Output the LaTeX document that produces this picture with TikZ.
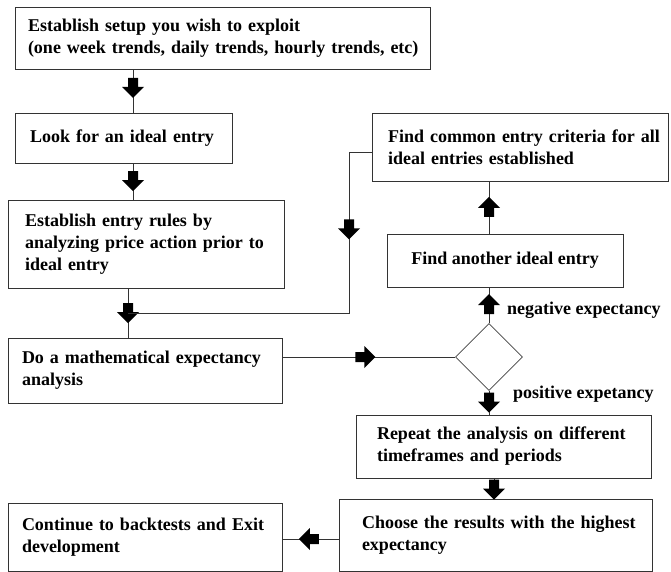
\documentclass[tikz,border=0pt]{standalone}
\usepackage{fontspec}
\setmainfont{Liberation Serif}
\usetikzlibrary{shapes.geometric}
\tikzset{
  box/.style={draw=black!80, line width=0.8pt, align=left, inner ysep=0pt,
    font=\fontsize{18}{22}\selectfont\bfseries},
  conn/.style={draw=black!80, line width=0.8pt},
  decision/.style={diamond, draw=black!75, line width=0.6pt, inner sep=0pt,
    minimum width=67, minimum height=67},
  lbl/.style={font=\fontsize{18}{22}\selectfont\bfseries, inner sep=0pt, anchor=west},
  blockarrow/.pic={\fill[black] (-10,-5) -- (-1,-5) -- (-1,-11) -- (10,0) -- (-1,11) -- (-1,5) -- (-10,5) -- cycle;}
}
\begin{document}
\begin{tikzpicture}[x=1pt,y=1pt]
\useasboundingbox (0,0) rectangle (671,-572);
% boxes
\node[box, inner xsep=13, text width=389, minimum width=415, minimum height=62] (b1) at (222.5,-38)
  {\mbox{Establish setup you wish to exploit}\\\mbox{(one week trends, daily trends, hourly trends, etc)}};
\node[box, inner xsep=15, text width=187, minimum width=217, minimum height=50] (b2) at (123.5,-138)
  {\mbox{Look for an ideal entry}};
\node[box, inner xsep=17, text width=242, minimum width=276, minimum height=88] (b3) at (146,-244)
  {\mbox{Establish entry rules by}\\\mbox{analyzing price action prior to}\\\mbox{ideal entry}};
\node[box, inner xsep=14, text width=246, minimum width=274, minimum height=65] (b4) at (145,-370.5)
  {\mbox{Do a mathematical expectancy}\\\mbox{analysis}};
\node[box, inner xsep=16, text width=264, minimum width=296, minimum height=68] (bcommon) at (520,-147)
  {\mbox{Find common entry criteria for all}\\\mbox{ideal entries established}};
\node[box, align=center, inner xsep=0pt, minimum width=236, minimum height=53] (banother) at (505,-260.5)
  {Find another ideal entry};
\node[decision] (dm) at (489,-357) {};
\node[box, inner xsep=21, text width=253, minimum width=295, minimum height=63] (brepeat) at (503.5,-446.5)
  {\mbox{Repeat the analysis on different}\\\mbox{timeframes and periods}};
\node[box, inner xsep=23, text width=267, minimum width=313, minimum height=72] (bchoose) at (495.5,-535)
  {\mbox{Choose the results with the highest}\\\mbox{expectancy}};
\node[box, inner xsep=14, text width=246, minimum width=274, minimum height=68] (bcontinue) at (145,-537)
  {\mbox{Continue to backtests and Exit}\\\mbox{development}};
% labels
\node[lbl] (neg) at (507,-310) {negative expectancy};
\node[lbl] (posl) at (513,-394) {positive expetancy};
% helper coordinates
\coordinate (x1) at (133,0);
\coordinate (x2) at (128,0);
\coordinate (xr) at (494,0);
\coordinate (yc) at (0,-539);
\coordinate (jn) at (128,-313);
\coordinate (cr) at (349,-152);
% connectors
\draw[conn] (b1.south -| x1) -- (b2.north -| x1) pic[pos=.43, sloped, allow upside down]{blockarrow};
\draw[conn] (b2.south -| x1) -- (b3.north -| x1) pic[pos=.49, sloped, allow upside down]{blockarrow};
\draw[conn] (b3.south -| x2) -- (b4.north -| x2) pic[pos=.5, sloped, allow upside down]{blockarrow};
\draw[conn] (bcommon.west |- cr) -- (cr) -- (cr |- jn) pic[pos=.48, sloped, allow upside down]{blockarrow} -- (jn);
\draw[conn] (b4.east |- dm.west) -- (dm.west) pic[pos=.48, sloped, allow upside down]{blockarrow};
\draw[conn] (dm.north) -- (banother.south -| dm.north) pic[pos=.53, sloped, allow upside down]{blockarrow};
\draw[conn] (banother.north -| dm.north) -- (bcommon.south -| dm.north) pic[pos=.51, sloped, allow upside down]{blockarrow};
\draw[conn] (dm.south) -- (brepeat.north -| dm.south) pic[pos=.5, sloped, allow upside down]{blockarrow};
\draw[conn] (brepeat.south -| xr) -- (bchoose.north -| xr) pic[pos=.55, sloped, allow upside down]{blockarrow};
\draw[conn] (bchoose.west |- yc) -- (bcontinue.east |- yc) pic[pos=.53, sloped, allow upside down]{blockarrow};
\end{tikzpicture}
\end{document}
